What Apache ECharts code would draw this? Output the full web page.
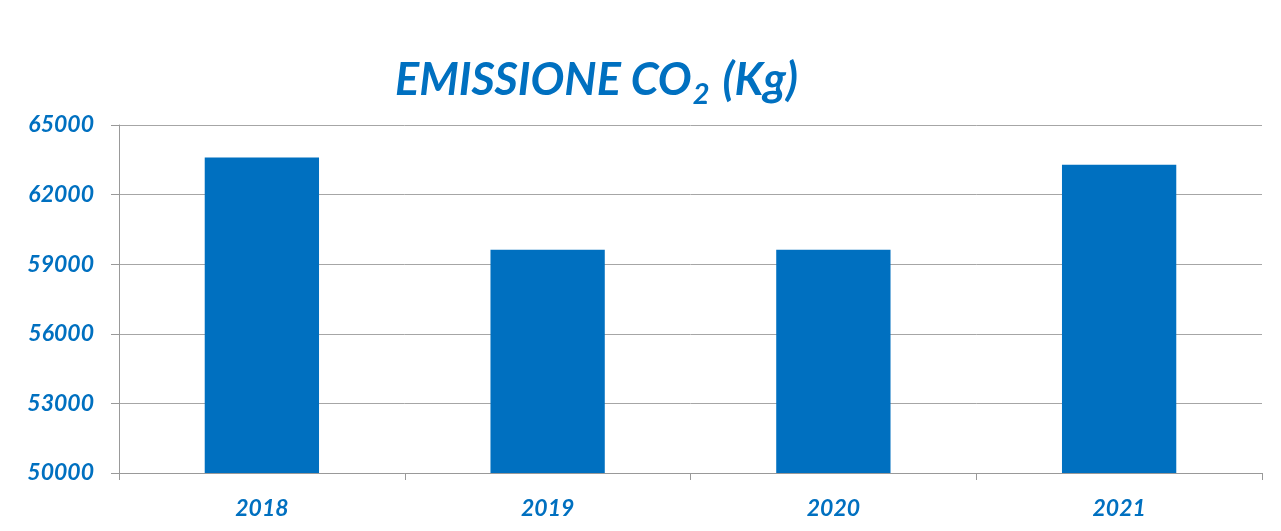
<!DOCTYPE html>
<html>
<head>
<meta charset="utf-8">
<script src="https://cdn.jsdelivr.net/npm/echarts@6/dist/echarts.min.js"></script>
<style>
  html, body { margin: 0; padding: 0; background: #fff; }
  #chart { width: 1281px; height: 531px; }
</style>
</head>
<body>
<div id="chart"></div>
<script>
// dati
var anni = ['2018', '2019', '2020', '2021'];
var emissioni = [63600, 59620, 59620, 63290];
var yMin = 50000, yMax = 65000, yPasso = 3000;

var blu = '#0070C0';
var chartDom = document.getElementById('chart');
var myChart = echarts.init(chartDom);
var option;

option = {
    animation: false,
    title: {
        text: '{a|EMISSIONE CO}{b|2}{a| (Kg)}',
        left: 390,
        top: 50,
        textStyle: {
            rich: {
                a: { fontFamily: 'Lato', fontSize: 45, fontWeight: 'bold', fontStyle: 'italic', color: blu, lineHeight: 50 },
                b: { fontFamily: 'Lato', fontSize: 29, fontWeight: 'bold', fontStyle: 'italic', color: blu, lineHeight: 20, padding: [30, 3, 0, 1] }
            }
        }
    },
    grid: { left: 119, right: 19, top: 125, bottom: 58 },
    xAxis: {
        type: 'category',
        data: anni,
        axisLine: { lineStyle: { color: '#999999', width: 1 } },
        axisTick: { show: true, length: 7, lineStyle: { color: '#999999' } },
        axisLabel: {
            margin: 24,
            color: blu,
            fontFamily: 'Lato',
            fontSize: 23,
            fontWeight: 'bold',
            fontStyle: 'italic'
        }
    },
    yAxis: {
        type: 'value',
        min: yMin,
        max: yMax,
        interval: yPasso,
        axisLine: { show: true, lineStyle: { color: '#999999' } },
        axisTick: { show: true, inside: false, length: 8, lineStyle: { color: '#999999' } },
        splitLine: { lineStyle: { color: '#a6a6a6' } },
        axisLabel: {
            margin: 25,
            color: blu,
            fontFamily: 'Lato',
            fontSize: 23,
            fontWeight: 'bold',
            fontStyle: 'italic',
            formatter: function (v) { return String(v); }
        }
    },
    series: [{
        type: 'bar',
        data: emissioni,
        barWidth: '40%',
        itemStyle: { color: blu }
    }]
};
option && myChart.setOption(option);
</script>
</body>
</html>
